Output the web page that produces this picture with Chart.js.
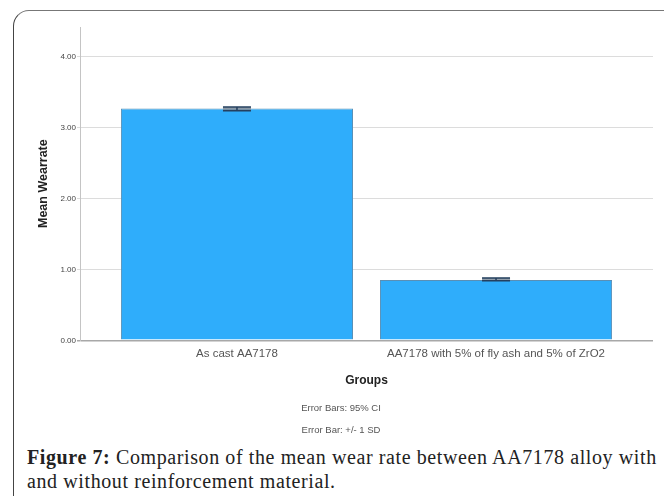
<!DOCTYPE html>
<html>
<head>
<meta charset="utf-8">
<script src="https://cdn.jsdelivr.net/npm/chart.js@4/dist/chart.umd.min.js"></script>
<style>
  html, body { margin: 0; padding: 0; background: #fff; }
  body { width: 666px; height: 496px; position: relative; overflow: hidden; }
  #frame {
    position: absolute; left: 13px; top: 10px; width: 650px; height: 520px;
    border-left: 1.5px solid #444; border-top: 1.5px solid #777;
    border-top-left-radius: 16px;
  }
  #wrap { position: absolute; left: 0; top: 0; width: 666px; height: 440px; }
  #caption {
    position: absolute; left: 27px; top: 445px; width: 640px;
    font-family: "Liberation Serif", serif; font-size: 20px; line-height: 24px;
    letter-spacing: 0.6px; color: #222; white-space: nowrap;
  }
</style>
</head>
<body>
<div id="frame"></div>
<div id="wrap"><canvas id="wearChart" width="666" height="440"></canvas></div>
<div id="caption"><b>Figure 7:</b> Comparison of the mean wear rate between AA7178 alloy with<br>and without reinforcement material.</div>
<script>
const groups = ['As cast AA7178', 'AA7178 with 5% of fly ash and 5% of ZrO2'];
const meanWear = [3.27, 0.85];
const ciLow = [3.24, 0.84];
const ciHigh = [3.29, 0.88];
const yTicks = [0, 1, 2, 3, 4];

// error bars drawn on top of the bars
const errorBars = {
  id: 'errorBars',
  afterDatasetsDraw(chart) {
    const ctx = chart.ctx;
    const x = chart.scales.x, y = chart.scales.y;
    ctx.save();
    groups.forEach((g, i) => {
      const cx = x.getPixelForValue(i);
      const hi = y.getPixelForValue(ciHigh[i]);
      const lo = y.getPixelForValue(ciLow[i]);
      ctx.fillStyle = 'rgba(120,135,150,0.8)';
      ctx.fillRect(cx - 14, hi, 28, lo - hi);
      ctx.strokeStyle = '#25405f';
      ctx.lineWidth = 1.5;
      ctx.beginPath();
      ctx.moveTo(cx - 14, hi); ctx.lineTo(cx + 14, hi);
      ctx.moveTo(cx - 14, lo); ctx.lineTo(cx + 14, lo);
      ctx.moveTo(cx, hi); ctx.lineTo(cx, lo);
      ctx.stroke();
    });
    ctx.restore();
  }
};

const ctx = document.getElementById('wearChart').getContext('2d');
new Chart(ctx, {
  type: 'bar',
  data: {
    datasets: [{
      data: meanWear.map((v, i) => ({ x: i, y: v })),
      backgroundColor: '#2fadfb',
      borderColor: '#5a8fb5',
      borderWidth: 1,
      categoryPercentage: 1,
      barPercentage: 0.896
    }]
  },
  options: {
    responsive: false,
    animation: false,
    layout: { padding: { left: 29, right: 13, top: 27, bottom: 0 } },
    plugins: {
      legend: { display: false },
      tooltip: { enabled: false },
      subtitle: {
        display: true, position: 'bottom', text: 'Error Bars: 95% CI',
        color: '#555', font: { family: 'Liberation Sans', size: 9.5 },
        padding: { top: 6, bottom: 2.6 }
      },
      title: {
        display: true, position: 'bottom', text: 'Error Bar: +/- 1 SD',
        color: '#555', font: { family: 'Liberation Sans', size: 9.5, weight: 'normal' },
        padding: { top: 8, bottom: 4.3 }
      }
    },
    scales: {
      x: {
        type: 'linear',
        offset: false,
        min: -0.606,
        max: 1.606,
        afterBuildTicks: s => { s.ticks = groups.map((g, i) => ({ value: i })); },
        afterFit: s => { s.height = 56; },
        grid: { display: false, drawTicks: false, offset: false },
        border: { display: false },
        ticks: {
          callback: v => groups[v],
          color: '#555', padding: 7,
          font: { family: 'Liberation Sans', size: 11.5 },
          maxRotation: 0, autoSkip: false
        },
        title: {
          display: true, text: 'Groups', color: '#222',
          font: { family: 'Liberation Sans', size: 12, weight: 'bold' },
          padding: { top: 0, bottom: 8 }
        }
      },
      y: {
        min: 0,
        max: 4.42,
        afterBuildTicks: s => { s.ticks = yTicks.map(v => ({ value: v })); },
        afterFit: s => { s.width = 51; },
        grid: {
          color: c => c.tick && c.tick.value === 0 ? '#a8a8a8' : '#dcdcdc',
          lineWidth: c => c.tick && c.tick.value === 0 ? 1.5 : 1,
          tickLength: 3
        },
        border: { display: true, color: '#c4c4c4', width: 1 },
        ticks: {
          callback: v => v.toFixed(2),
          color: '#444', padding: 1,
          font: { family: 'Liberation Sans', size: 8 }
        },
        title: {
          display: true, text: 'Mean Wearrate', color: '#222',
          font: { family: 'Liberation Sans', size: 12.5, weight: 'bold' },
          padding: { top: 7.5, bottom: 0 }
        }
      }
    }
  },
  plugins: [errorBars]
});
</script>
</body>
</html>
